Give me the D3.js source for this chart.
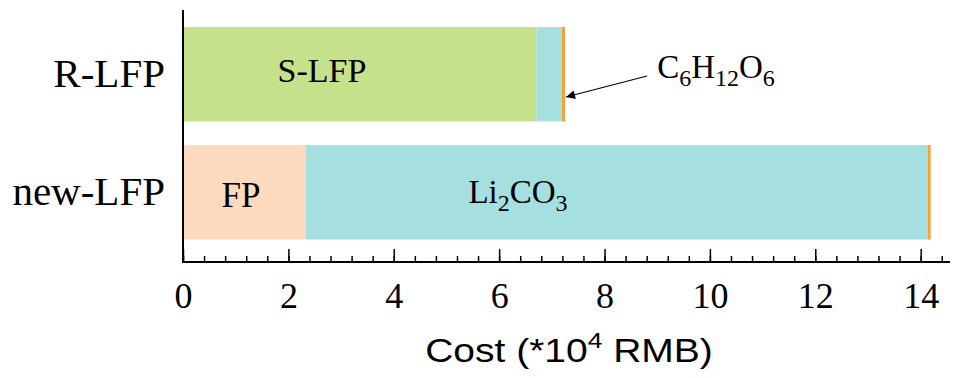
<!DOCTYPE html>
<html><head><meta charset="utf-8">
<script src="https://cdn.jsdelivr.net/npm/d3@7"></script>
<style>body{margin:0;background:#fff}svg{display:block}</style>
</head><body>
<svg id="c" width="980" height="378"></svg>
<script>
const categories = ["R-LFP", "new-LFP"];
const components = ["FP", "S-LFP", "Li2CO3", "C6H12O6"];
const fpValues = [0, 2.33];
const slfpValues = [6.71, 0];
const li2co3Values = [0.48, 11.80];
const glucoseValues = [0.06, 0.06];
const xTicks = [0, 2, 4, 6, 8, 10, 12, 14];
const colors = {"FP": "#FDDABD", "S-LFP": "#C5E18B", "Li2CO3": "#A5DFE0", "C6H12O6": "#F4A236"};

const svg = d3.select("#c");
const serif = "'Liberation Serif','Times New Roman',serif";
const mLeft = 183, mRight = 947, mTop = 10, mBottom = 262;
const x = d3.scaleLinear().domain([0, 14.5]).range([mLeft, mRight]);
const y = d3.scaleBand().domain(categories).range([27, 239.5]).paddingInner(0.2).paddingOuter(0);

const rows = categories.map((c, i) => ({cat: c, FP: fpValues[i], "S-LFP": slfpValues[i], Li2CO3: li2co3Values[i], C6H12O6: glucoseValues[i]}));
const stack = d3.stack().keys(components)(rows);

svg.append("g").selectAll("g").data(stack).join("g")
  .attr("fill", d => colors[d.key])
  .selectAll("rect").data(d => d).join("rect")
  .attr("x", d => x(d[0]))
  .attr("width", d => Math.max(0, x(d[1]) - x(d[0])))
  .attr("y", d => y(d.data.cat))
  .attr("height", y.bandwidth());

// axes
const ax = svg.append("g").attr("transform", `translate(0,${mBottom})`);
ax.call(d3.axisBottom(x).tickValues(d3.range(0, 14.41, 0.4)).tickSize(0).tickFormat(""));
ax.select(".domain").remove();
ax.append("line").attr("x1", mLeft - 1).attr("x2", mRight + 3).attr("stroke", "#000").attr("stroke-width", 2);
ax.selectAll(".tick").append("line").attr("y2", -6).attr("stroke", "#000").attr("stroke-width", 1.5);
const maj = svg.append("g").attr("transform", `translate(0,${mBottom})`)
  .call(d3.axisBottom(x).tickValues(xTicks).tickSize(0).tickPadding(0).tickFormat(d3.format("d")));
maj.select(".domain").remove();
maj.selectAll(".tick line").remove();
maj.selectAll(".tick").append("line").attr("y2", -13).attr("stroke", "#000").attr("stroke-width", 1.5);
maj.selectAll(".tick text").attr("y", 46).attr("dy", null).attr("fill", "#000")
  .style("font-family", serif).style("font-size", "36px");

svg.append("line").attr("x1", mLeft).attr("x2", mLeft).attr("y1", mTop).attr("y2", mBottom + 1)
  .attr("stroke", "#000").attr("stroke-width", 2);

// category labels
const mid = c => y(c) + y.bandwidth() / 2;
const ay = svg.append("g").attr("transform", `translate(${mLeft},0)`)
  .call(d3.axisLeft(y).tickSize(0).tickPadding(18));
ay.select(".domain").remove();
ay.selectAll(".tick text").attr("fill", "#000").attr("dy", "13px")
  .style("font-family", serif).style("font-size", "41px");

// bar labels
function lab(txt, cx, by, size) {
  const t = svg.append("text").attr("x", cx).attr("y", by).attr("text-anchor", "middle")
    .style("font-family", serif).style("font-size", size + "px").attr("fill", "#000");
  txt.forEach(([s, sub], i) => {
    const prevSub = i > 0 && txt[i-1][1];
    t.append("tspan").text(s)
      .attr("dy", sub && !prevSub ? 8 : (!sub && prevSub ? -8 : 0))
      .style("font-size", sub ? Math.round(size * 0.72) + "px" : null);
  });
  return t;
}
lab([["S-LFP", 0]], 322, mid("R-LFP") + 8, 34);
lab([["FP", 0]], 241, mid("new-LFP") + 15, 35);
lab([["Li", 0], ["2", 1], ["CO", 0], ["3", 1]], 518, mid("new-LFP") + 11, 33);
lab([["C", 0], ["6", 1], ["H", 0], ["12", 1], ["O", 0], ["6", 1]], 716, mid("R-LFP") + 4, 33);

// arrow
svg.append("defs").append("marker").attr("id", "ah").attr("viewBox", "0 0 10 10")
  .attr("refX", 10).attr("refY", 5).attr("markerWidth", 16).attr("markerHeight", 9)
  .attr("markerUnits", "userSpaceOnUse").attr("orient", "auto")
  .append("path").attr("d", "M0,0L10,5L0,10z").attr("fill", "#000");
const xEnd = x(slfpValues[0] + li2co3Values[0] + glucoseValues[0]);
svg.append("line").attr("x1", 647).attr("y1", 76).attr("x2", xEnd + 1).attr("y2", 97)
  .attr("stroke", "#000").attr("stroke-width", 1.2).attr("marker-end", "url(#ah)");

// x title
const tt = svg.append("text").attr("transform", "translate(569,362) scale(1.2,1)").attr("text-anchor", "middle")
  .style("font-family", "'Liberation Sans',Arial,sans-serif").style("font-size", "32.5px").attr("fill", "#000");
tt.append("tspan").text("Cost (*10");
tt.append("tspan").text("4").attr("dy", -14).style("font-size", "22px");
tt.append("tspan").text(" RMB)").attr("dy", 14);
</script>
</body></html>
